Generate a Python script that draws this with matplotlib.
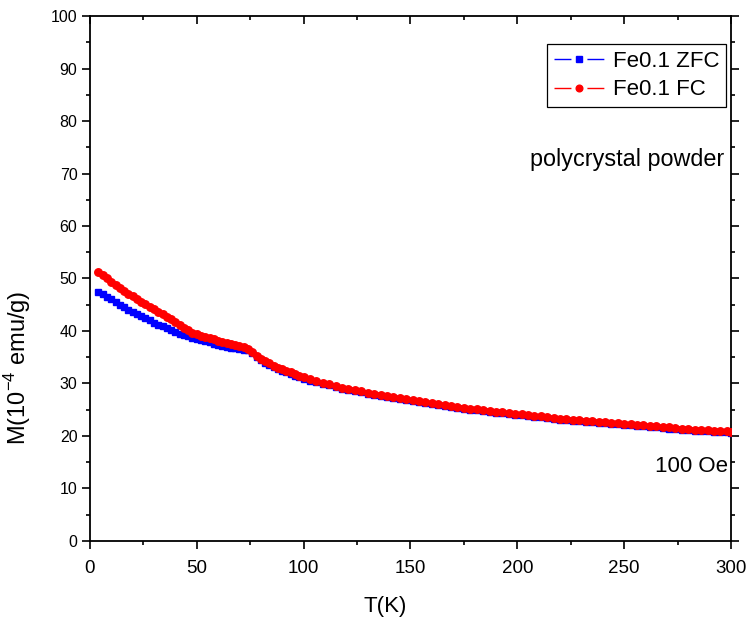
"""
Fe0.1 ZFC / FC magnetization vs temperature
"""

import matplotlib
matplotlib.use("Agg")
import matplotlib.pyplot as plt
from matplotlib.lines import Line2D
from matplotlib.ticker import MultipleLocator

plt.rcParams['font.family'] = ['Liberation Sans', 'DejaVu Sans']
plt.rcParams['mathtext.fontset'] = 'custom'
plt.rcParams['mathtext.rm'] = 'Liberation Sans'

# Temperature grid (K): 2 K steps at low T, 3 K steps above 100 K
temp_k = [4, 6, 8, 10, 12, 14, 16, 18, 20, 22, 24, 26, 28, 30, 32, 34, 36, 38,
          40, 42, 44, 46, 48, 50, 52, 54, 56, 58, 60, 62, 64, 66, 68, 70, 72, 74,
          76, 78, 80, 82, 84, 86, 88, 90, 92, 94, 96, 98, 100,
          103, 106, 109, 112, 115, 118, 121, 124, 127, 130, 133, 136, 139, 142,
          145, 148, 151, 154, 157, 160, 163, 166, 169, 172, 175, 178, 181, 184,
          187, 190, 193, 196, 199, 202, 205, 208, 211, 214, 217, 220, 223, 226,
          229, 232, 235, 238, 241, 244, 247, 250, 253, 256, 259, 262, 265, 268,
          271, 274, 277, 280, 283, 286, 289, 292, 295, 298, 300]

# Field cooled, M in 1e-4 emu/g
m_fc = [51.2, 50.6, 50.0, 49.4, 48.8, 48.2, 47.7, 47.1, 46.6, 46.1, 45.6, 45.1,
        44.6, 44.1, 43.6, 43.2, 42.7, 42.2, 41.7, 41.1, 40.6, 40.1, 39.7, 39.4,
        39.1, 38.8, 38.6, 38.4, 38.1, 37.9, 37.7, 37.5, 37.3, 37.1, 36.9, 36.6,
        36.0, 35.3, 34.7, 34.2, 33.8, 33.4, 33.0, 32.7, 32.4, 32.1, 31.8, 31.5, 31.2,
        30.8, 30.4, 30.1, 29.8, 29.5, 29.2, 29.0, 28.7, 28.5, 28.2, 28.0, 27.8,
        27.6, 27.4, 27.2, 27.0, 26.8, 26.6, 26.4, 26.2, 26.0, 25.9, 25.7, 25.5,
        25.4, 25.2, 25.1, 24.9, 24.8, 24.6, 24.5, 24.3, 24.2, 24.1, 23.9, 23.8,
        23.7, 23.6, 23.4, 23.3, 23.2, 23.1, 23.0, 22.9, 22.8, 22.7, 22.6, 22.5,
        22.4, 22.3, 22.2, 22.1, 22.0, 21.9, 21.8, 21.7, 21.6, 21.5, 21.4, 21.3,
        21.2, 21.1, 21.05, 21.0, 20.9, 20.85, 20.8]

# Zero field cooled
m_zfc = [47.4, 47.0, 46.5, 46.0, 45.5, 45.0, 44.5, 44.0, 43.6, 43.2, 42.8, 42.4,
         42.0, 41.6, 41.2, 40.9, 40.5, 40.2, 39.8, 39.5, 39.2, 39.0, 38.7, 38.5,
         38.2, 38.0, 37.8, 37.6, 37.4, 37.2, 37.0, 36.8, 36.7, 36.5, 36.4, 36.3,
         35.7, 35.0, 34.4, 33.9, 33.5, 33.1, 32.7, 32.4, 32.1, 31.8, 31.5, 31.2, 30.9,
         30.5, 30.2, 29.9, 29.6, 29.3, 29.0, 28.8, 28.5, 28.3, 28.0, 27.8, 27.6,
         27.4, 27.2, 27.0, 26.8, 26.6, 26.4, 26.2, 26.0, 25.8, 25.7, 25.5, 25.3,
         25.2, 25.0, 24.9, 24.7, 24.6, 24.4, 24.3, 24.1, 24.0, 23.9, 23.7, 23.6,
         23.5, 23.4, 23.2, 23.1, 23.0, 22.9, 22.8, 22.7, 22.6, 22.5, 22.4, 22.3,
         22.2, 22.1, 22.0, 21.9, 21.8, 21.7, 21.6, 21.5, 21.4, 21.3, 21.2, 21.1,
         21.0, 20.9, 20.85, 20.8, 20.7, 20.65, 20.6]

series_labels = ['Fe0.1 ZFC', 'Fe0.1 FC']


def main():
    fig = plt.figure(figsize=(7.49, 6.23), dpi=100)
    ax = fig.add_axes([0.120, 0.132, 0.856, 0.842])

    ax.plot(temp_k, m_zfc, color='blue', lw=2.8, marker='s', ms=4.4,
            mec='blue', mfc='blue', zorder=3)
    ax.plot(temp_k, m_fc, color='red', lw=3.2, marker='o', ms=5.4,
            mec='red', mfc='red', zorder=4)

    ax.set_xlim(0, 300)
    ax.set_ylim(0, 100)
    ax.xaxis.set_major_locator(MultipleLocator(50))
    ax.xaxis.set_minor_locator(MultipleLocator(25))
    ax.yaxis.set_major_locator(MultipleLocator(10))
    ax.yaxis.set_minor_locator(MultipleLocator(5))

    for s in ax.spines.values():
        s.set_linewidth(1.3)

    ax.tick_params(which='both', width=1.2, top=True, right=True)
    ax.tick_params(which='major', length=6)
    ax.tick_params(which='minor', length=3)
    ax.tick_params(axis='x', which='both', direction='out', pad=8, labelsize=13.5)
    ax.tick_params(axis='y', which='both', direction='out', pad=3, labelsize=11.5)
    # top/right ticks point inward
    for t in ax.xaxis.get_major_ticks() + ax.xaxis.get_minor_ticks():
        t.tick2line.set_marker(3)
    for t in ax.yaxis.get_major_ticks() + ax.yaxis.get_minor_ticks():
        t.tick2line.set_marker(1)

    ax.set_xlabel('T(K)', fontsize=16)
    ax.xaxis.set_label_coords(0.46, -0.105)
    ax.set_ylabel(r'M(10$^{-4}$ emu/g)', fontsize=17)
    ax.yaxis.set_label_coords(-0.088, 0.33)

    ax.text(297, 72.6, 'polycrystal powder', fontsize=16.8, ha='right', va='center')
    ax.text(298.5, 14.1, '100 Oe', fontsize=16, ha='right', va='center')

    handles = [
        Line2D([], [], color='blue', lw=1, ls=(0, (12.2, 11.5)), marker='s',
               ms=4.2, mec='blue', mfc='blue'),
        Line2D([], [], color='red', lw=1, ls=(0, (12.2, 11.5)), marker='o',
               ms=4.8, mec='red', mfc='red'),
    ]
    leg = ax.legend(handles, series_labels, loc='upper right',
                    bbox_to_anchor=(0.992, 0.947), fontsize=16, numpoints=1,
                    handlelength=2.24, handletextpad=0.4, borderpad=0.3,
                    labelspacing=0.35, borderaxespad=0, fancybox=False,
                    framealpha=1, edgecolor='black')
    leg.get_frame().set_linewidth(0.9)

    fig.savefig('out.png', dpi=100)
    plt.close(fig)


if __name__ == "__main__":
    main()
